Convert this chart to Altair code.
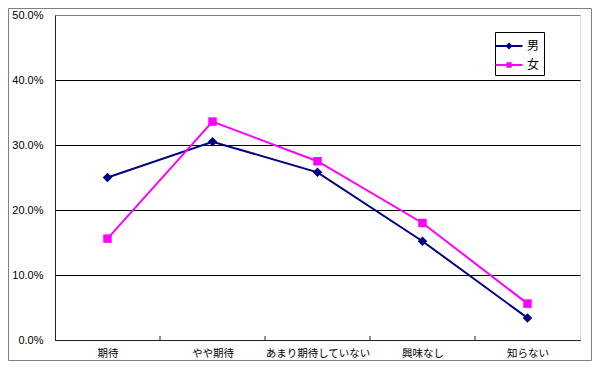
import altair as alt
import pandas as pd

categories = ["期待", "やや期待", "あまり期待していない", "興味なし", "知らない"]
male = [0.250, 0.305, 0.258, 0.152, 0.034]
female = [0.156, 0.336, 0.275, 0.180, 0.056]
series = ["男", "女"]
colors = ["#000080", "#FF00FF"]
y_ticks = [0.0, 0.1, 0.2, 0.3, 0.4, 0.5]

rows = []
for s, vals in zip(series, [male, female]):
    for i, (c, v) in enumerate(zip(categories, vals)):
        rows.append({"series": s, "category": c, "pos": i + 0.5, "value": v})
df = pd.DataFrame(rows)
bounds = pd.DataFrame({"b": list(range(1, len(categories)))})
frame = pd.DataFrame({"k": [0]})

W, H = 525, 325
n = len(categories)
label_expr = "[" + ",".join("'%s'" % c for c in categories) + "][floor(datum.value)]"

xs = alt.Scale(domain=[0, n], nice=False, zero=False)
ys = alt.Scale(domain=[0, 0.5], nice=False)

x_enc = alt.X("pos:Q", scale=xs, axis=alt.Axis(
    values=[i + 0.5 for i in range(n)], labelExpr=label_expr, ticks=False, grid=False,
    domainColor="#222222", labelFont="Noto Sans CJK JP", labelFontSize=10.5,
    labelColor="#000000", labelPadding=8, title=None))
y_enc = alt.Y("value:Q", scale=ys, axis=alt.Axis(
    values=y_ticks, format=".1%", grid=True,
    gridColor={"condition": {"test": "datum.value >= 0.5", "value": "#808080"}, "value": "#000000"},
    ticks=False, domainColor="#222222", labelFont="Liberation Sans", labelFontSize=11,
    labelColor="#000000", labelPadding=12, title=None))

path_d = "M-1.5,0H1.5M0,-0.24L0.24,0L0,0.24L-0.24,0Z"
path_s = "M-1.5,0H1.5M-0.19,-0.19H0.19V0.19H-0.19Z"
leg = alt.Legend(title=None, orient="none", legendX=440, legendY=17, padding=4,
                 strokeColor="#000000", fillColor="#ffffff", labelFont="Noto Sans CJK JP",
                 labelFontSize=12, labelColor="#000000", symbolSize=324, symbolStrokeWidth=2,
                 symbolOpacity=1, labelOffset=8, rowPadding=2)

base = alt.Chart(df).encode(x=x_enc, y=y_enc)

legend_layer = base.mark_point(filled=True, size=12, strokeWidth=1).encode(
    fill=alt.Fill("series:N", scale=alt.Scale(domain=series, range=colors), legend=leg),
    stroke=alt.Stroke("series:N", scale=alt.Scale(domain=series, range=colors), legend=leg),
    shape=alt.Shape("series:N", scale=alt.Scale(domain=series, range=[path_d, path_s]), legend=leg),
)

line_m = base.transform_filter(alt.datum.series == series[0]).mark_line(strokeWidth=2, color=colors[0])
line_f = base.transform_filter(alt.datum.series == series[1]).mark_line(strokeWidth=2, color=colors[1])
pts_m = base.transform_filter(alt.datum.series == series[0]).mark_point(
    shape="diamond", filled=True, size=90, opacity=1, color=colors[0])
pts_f = base.transform_filter(alt.datum.series == series[1]).mark_point(
    shape="square", filled=True, size=72, opacity=1, color=colors[1])

ticks = alt.Chart(bounds).mark_rule(color="#222222", strokeWidth=1).encode(
    x=alt.X("b:Q", scale=xs), y=alt.value(H), y2=alt.value(H - 4))

border = alt.Chart(frame).mark_rect(fill="transparent", stroke="#808080", strokeWidth=1, clip=False).encode(
    x=alt.value(-46.5), x2=alt.value(536.5), y=alt.value(-6.5), y2=alt.value(345.5))

chart = alt.layer(legend_layer, line_m, line_f, ticks, pts_m, pts_f, border).properties(
    width=W, height=H,
    autosize=alt.AutoSizeParams(type="none"),
    padding={"left": 47, "top": 7, "right": 12, "bottom": 21},
).configure_view(stroke="#808080", strokeWidth=1).configure(background="#ffffff")

chart.save("out.html", embed_options={"renderer": "svg", "actions": False})
